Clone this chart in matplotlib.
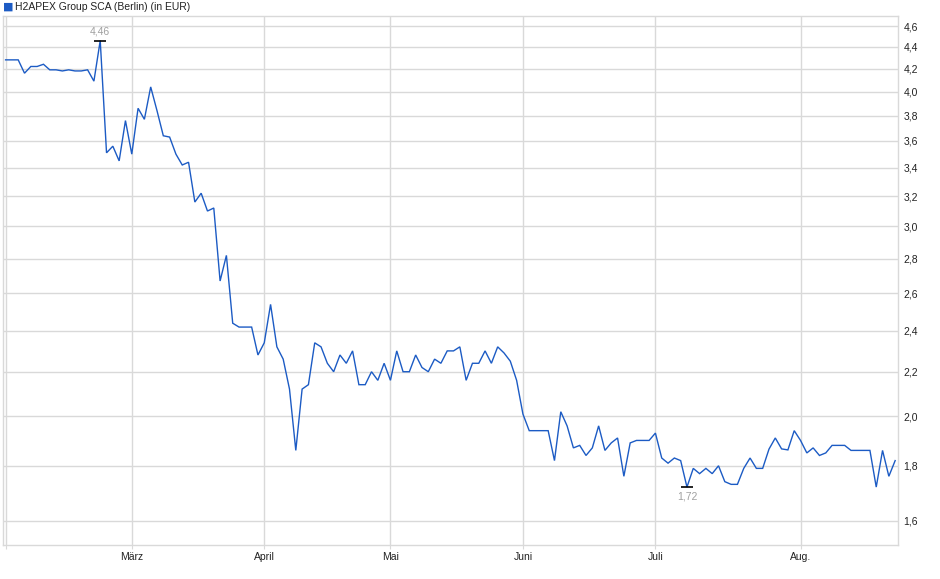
import numpy as np
import pandas as pd
import matplotlib
matplotlib.use("Agg")
import matplotlib.pyplot as plt
from matplotlib.ticker import FixedLocator, NullLocator, NullFormatter, FuncFormatter

plt.rcParams['font.family'] = ['Liberation Sans', 'DejaVu Sans']

# ---- data -------------------------------------------------------------
title = "H2APEX Group SCA (Berlin) (in EUR)"
start_date = "2025-02-03"
end_date = "2025-08-22"
holidays = ["2025-04-18", "2025-04-21", "2025-05-01"]

prices = [
    # Feb
    4.28, 4.28, 4.28, 4.16, 4.22, 4.22, 4.24, 4.19, 4.19, 4.18,
    4.19, 4.18, 4.18, 4.19, 4.09, 4.46, 3.51, 3.56, 3.45, 3.76,
    # Mar
    3.50, 3.86, 3.77, 4.04, 3.84, 3.64, 3.63, 3.50, 3.42, 3.44,
    3.16, 3.22, 3.10, 3.12, 2.67, 2.82, 2.44, 2.42, 2.42, 2.42,
    2.28,
    # Apr
    2.34, 2.54, 2.32, 2.26, 2.12, 1.86, 2.12, 2.14, 2.34, 2.32,
    2.24, 2.20, 2.28, 2.24, 2.30, 2.14, 2.14, 2.20, 2.16, 2.24,
    # May
    2.16, 2.30, 2.20, 2.20, 2.28, 2.22, 2.20, 2.26, 2.24, 2.30,
    2.30, 2.32, 2.16, 2.24, 2.24, 2.30, 2.24, 2.32, 2.29, 2.25,
    2.16,
    # Jun
    2.01, 1.94, 1.94, 1.94, 1.94, 1.82, 2.02, 1.96, 1.87, 1.88,
    1.84, 1.87, 1.96, 1.86, 1.89, 1.91, 1.76, 1.89, 1.90, 1.90,
    1.90,
    # Jul
    1.93, 1.83, 1.81, 1.83, 1.82, 1.72, 1.79, 1.77, 1.79, 1.77,
    1.80, 1.74, 1.73, 1.73, 1.79, 1.83, 1.79, 1.79, 1.865, 1.91,
    1.866, 1.862, 1.94,
    # Aug
    1.90, 1.85, 1.87, 1.84, 1.85, 1.88, 1.88, 1.88, 1.86, 1.86,
    1.86, 1.86, 1.72, 1.86, 1.76, 1.82,
]

month_labels = {2: "", 3: "März", 4: "April", 5: "Mai", 6: "Juni", 7: "Juli", 8: "Aug."}
y_ticks = [1.6, 1.8, 2.0, 2.2, 2.4, 2.6, 2.8, 3.0, 3.2, 3.4, 3.6, 3.8, 4.0, 4.2, 4.4, 4.6]

# ---- derived ----------------------------------------------------------
dates = pd.bdate_range(start_date, end_date)
dates = dates[~dates.isin(pd.to_datetime(holidays))]
values = np.array(prices)
x = np.arange(len(values))

month_pos, month_txt = [], []
prev = None
for i, d in enumerate(dates):
    if d.month != prev:
        month_pos.append(i)
        month_txt.append(month_labels.get(d.month, ""))
        prev = d.month

# ---- figure -----------------------------------------------------------
W, H = 940, 579
fig = plt.figure(figsize=(W / 100, H / 100), dpi=100)
ax = fig.add_axes([3 / W, (H - 545) / H, (898 - 3) / W, (545 - 16) / H])

grid_c = "#d9d9d9"
line_c = "#1c5bc4"

ax.plot(x, values, color=line_c, lw=1.0, zorder=3, solid_joinstyle="miter")

ax.set_yscale("log")
ax.set_ylim(1.52, 4.70)
ax.set_xlim(-0.41, len(values) - 1 + 0.45)

ax.yaxis.set_major_locator(FixedLocator(y_ticks))
ax.yaxis.set_minor_locator(NullLocator())
ax.yaxis.set_minor_formatter(NullFormatter())
ax.yaxis.set_major_formatter(FuncFormatter(lambda v, p: f"{v:.1f}".replace(".", ",")))
ax.yaxis.tick_right()

ax.set_xticks(month_pos)
ax.set_xticklabels(month_txt)
ax.xaxis.set_minor_locator(NullLocator())

ax.grid(True, color=grid_c, lw=1.0, zorder=0)
for s in ax.spines.values():
    s.set_color(grid_c)
    s.set_linewidth(1.0)

ax.tick_params(axis="y", length=0, pad=4, labelsize=7.5, labelcolor="#222222")
ax.tick_params(axis="x", length=3, color=grid_c, pad=2, labelsize=7.5, labelcolor="#222222")

# max / min annotations
imax = int(np.argmax(values))
imin = int(np.argmin(values))
for idx, above in ((imax, True), (imin, False)):
    v = values[idx]
    ax.plot([idx], [v], marker="_", markersize=9, markeredgewidth=1.2, color="black", zorder=4)
    ax.annotate(f"{v:.2f}".replace(".", ","), xy=(idx, v),
                xytext=(0, 3 if above else -3), textcoords="offset points",
                ha="center", va="bottom" if above else "top",
                fontsize=7.5, color="#a0a0a0", zorder=5)

# title with square marker
fig.text(3 / W, 1 - 7 / H, "\u25A0", color=line_c, fontsize=8, va="center", ha="left",
         family=["DejaVu Sans"])
fig.text(15 / W, 1 - 7 / H, title, color="#222222", fontsize=7.5, va="center", ha="left")

fig.savefig("out.png", dpi=100)
